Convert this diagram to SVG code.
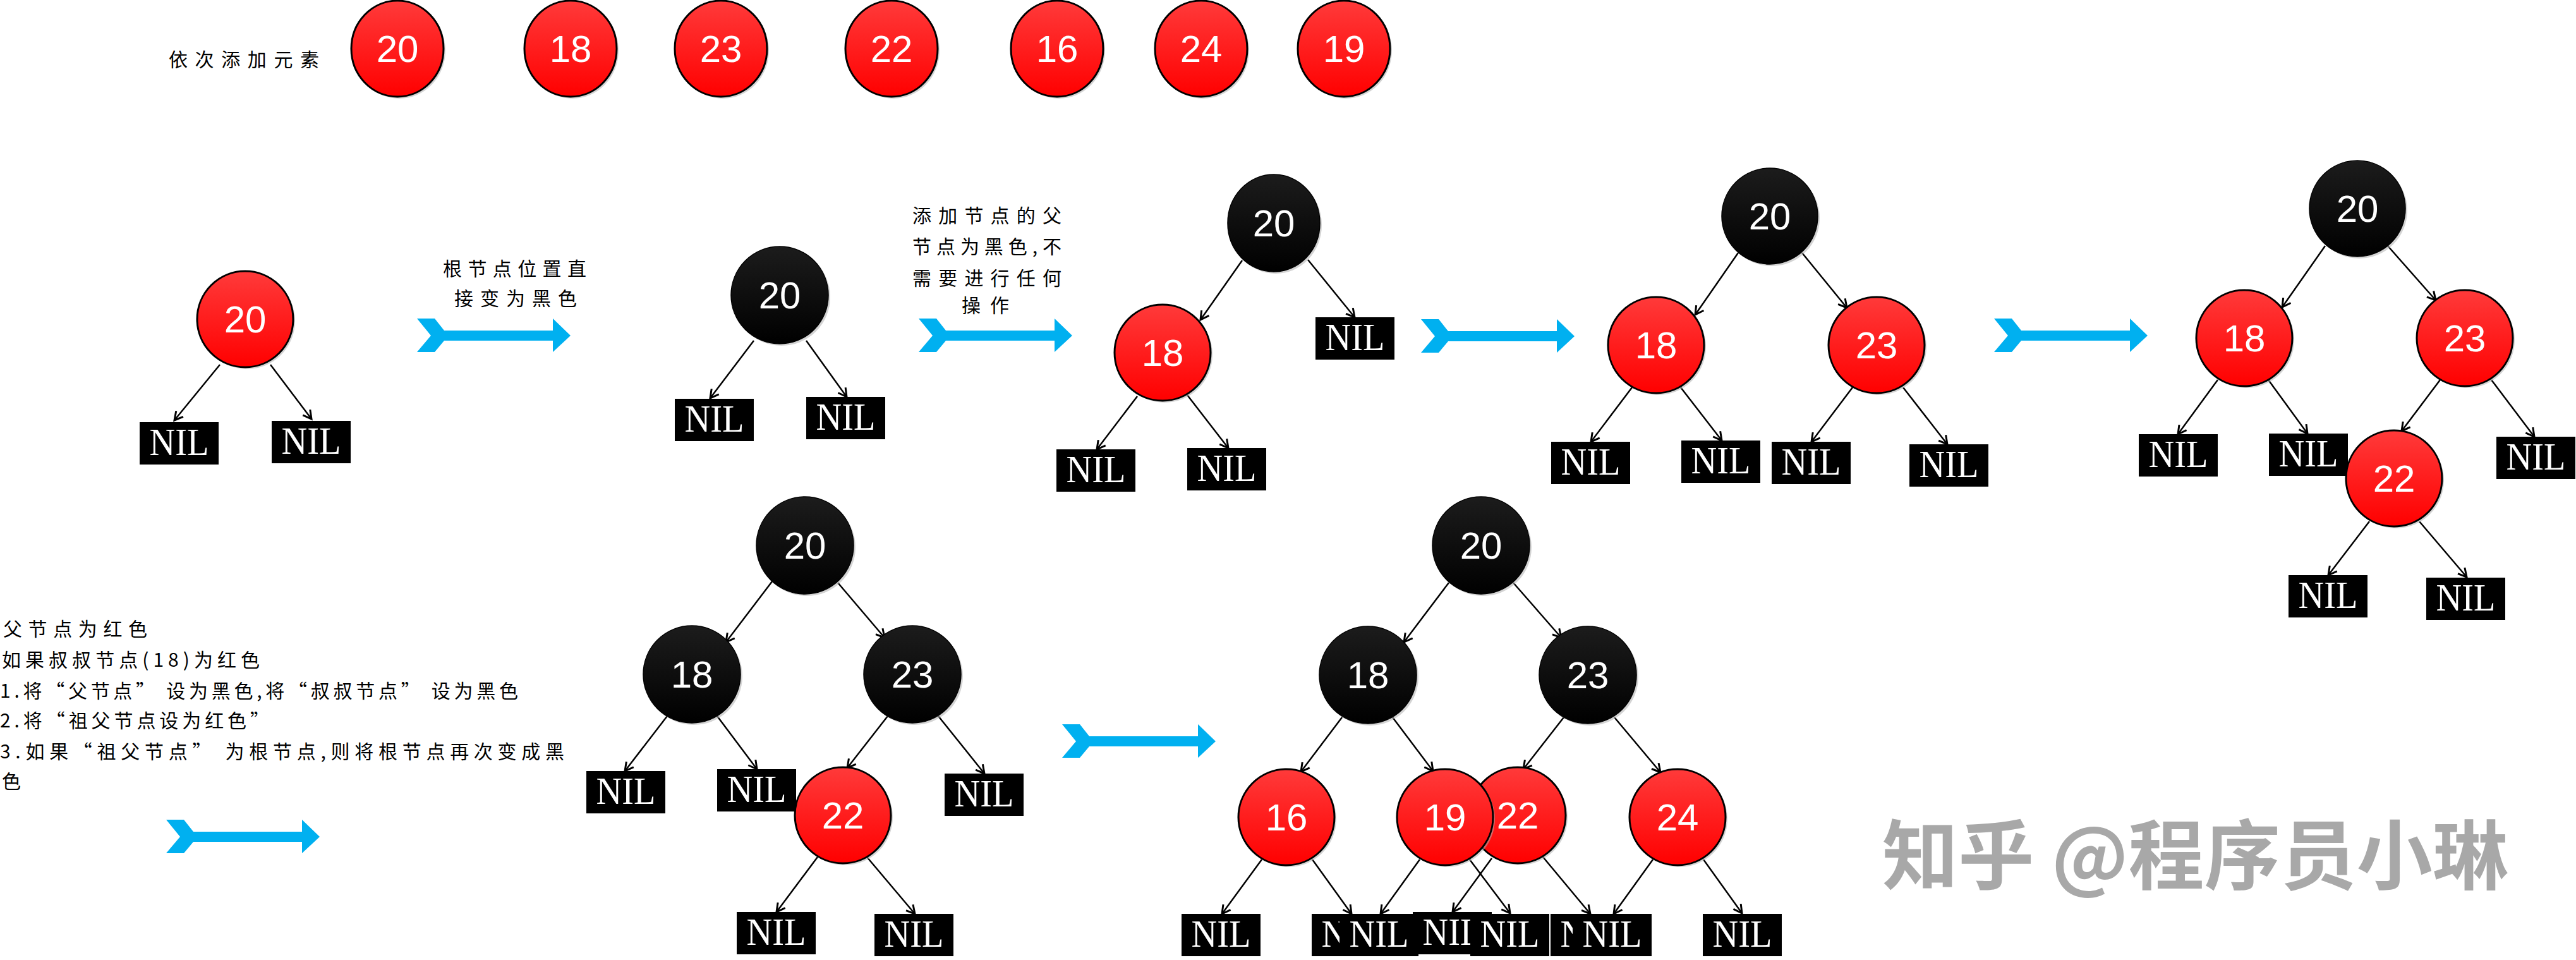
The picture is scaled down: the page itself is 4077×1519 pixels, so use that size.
<svg xmlns="http://www.w3.org/2000/svg" xmlns:xlink="http://www.w3.org/1999/xlink" width="4077" height="1519" viewBox="0 0 4077 1519">
<defs>
<linearGradient id="gr" x1="0" y1="0" x2="0" y2="1"><stop offset="0" stop-color="#ff3a3a"/><stop offset="1" stop-color="#ff0000"/></linearGradient>
<linearGradient id="gb" x1="0" y1="0" x2="0" y2="1"><stop offset="0" stop-color="#1c1c1c"/><stop offset="1" stop-color="#000"/></linearGradient>
<marker id="ah" markerUnits="userSpaceOnUse" markerWidth="24" markerHeight="24" viewBox="-14 -10 18 20" refX="0" refY="0" orient="auto"><path d="M-11,-6 L0,0 L-11,6" fill="none" stroke="#000" stroke-width="2.5"/></marker>
<path id="barrow" d="M0,0 L28,0 L43,19 L215,19 L215,0 L243,27 L215,53 L215,35 L43,35 L28,53 L0,53 L22,27 Z" fill="#00b0f0"/>
<style>
.red{fill:url(#gr);stroke:#000;stroke-width:3}
.blk{fill:url(#gb);stroke:#000;stroke-width:1.5}
.sh{fill:#b0b0b0;opacity:0.55}
.num{font-family:"Liberation Sans",Arial,sans-serif;font-size:60px;fill:#fff;text-anchor:middle}
.nil{fill:#000}
.nilt{font-family:"Liberation Serif","Times New Roman",serif;font-size:62px;fill:#fff;text-anchor:middle}
.edge line{stroke:#000;stroke-width:2.5;marker-end:url(#ah)}
.cn{font-family:"Noto Sans CJK SC","Noto Sans CJK JP",sans-serif;font-size:30px;fill:#000}
.wm{font-family:"Noto Sans CJK SC","Noto Sans CJK JP",sans-serif;font-size:120px;font-weight:bold;fill:#a8a8a8}
</style>
</defs>
<rect width="4077" height="1519" fill="#fff"/>

<!-- captions -->
<g id="captions">
<text class="cn" x="267" y="105" textLength="238" lengthAdjust="spacing">依次添加元素</text>
<text class="cn" x="701" y="436" textLength="227" lengthAdjust="spacing">根节点位置直</text>
<text class="cn" x="719" y="483" textLength="194" lengthAdjust="spacing">接变为黑色</text>
<text class="cn" x="1444" y="352" textLength="236" lengthAdjust="spacing">添加节点的父</text>
<text class="cn" x="1444" y="401" textLength="236" lengthAdjust="spacing">节点为黑色,不</text>
<text class="cn" x="1444" y="451" textLength="236" lengthAdjust="spacing">需要进行任何</text>
<text class="cn" x="1522" y="494" textLength="75" lengthAdjust="spacing">操作</text>
<text class="cn" x="5" y="1006" textLength="228" lengthAdjust="spacing">父节点为红色</text>
<text class="cn" x="3" y="1055" textLength="408" lengthAdjust="spacing">如果叔叔节点(18)为红色</text>
<text class="cn" x="0" y="1104" textLength="820" lengthAdjust="spacing">1.将“父节点” 设为黑色,将“叔叔节点” 设为黑色</text>
<text class="cn" x="0" y="1151" textLength="426" lengthAdjust="spacing">2.将“祖父节点设为红色”</text>
<text class="cn" x="0" y="1200" textLength="893" lengthAdjust="spacing">3.如果“祖父节点” 为根节点,则将根节点再次变成黑</text>
<text class="cn" x="3" y="1247">色</text>
<text class="wm" x="2979" y="1398" textLength="991" lengthAdjust="spacing">知乎 @程序员小琳</text>
</g>

<!-- blue arrows -->
<g id="arrows">
<use href="#barrow" xlink:href="#barrow" x="660" y="504"/>
<use href="#barrow" xlink:href="#barrow" x="1454" y="504"/>
<use href="#barrow" xlink:href="#barrow" x="2249" y="505"/>
<use href="#barrow" xlink:href="#barrow" x="3156" y="504"/>
<use href="#barrow" xlink:href="#barrow" x="1681" y="1146"/>
<use href="#barrow" xlink:href="#barrow" x="263" y="1297"/>
</g>

<!-- connectors -->
<g id="connectors" class="edge">
<line x1="348" y1="577" x2="276" y2="665"/>
<line x1="428" y1="577" x2="493" y2="663"/>
<line x1="1193" y1="539" x2="1124" y2="630"/>
<line x1="1276" y1="539" x2="1340" y2="628"/>
<line x1="1966" y1="412" x2="1900" y2="506"/>
<line x1="2070" y1="411" x2="2144" y2="502"/>
<line x1="1800" y1="627" x2="1736" y2="711"/>
<line x1="1879" y1="625" x2="1944" y2="709"/>
<line x1="2751" y1="400" x2="2683" y2="498"/>
<line x1="2852" y1="400" x2="2923" y2="487"/>
<line x1="2583" y1="613" x2="2518" y2="699"/>
<line x1="2660" y1="613" x2="2725" y2="697"/>
<line x1="2932" y1="613" x2="2867" y2="699"/>
<line x1="3012" y1="613" x2="3082" y2="703"/>
<line x1="3680" y1="389" x2="3612" y2="486"/>
<line x1="3779" y1="389" x2="3855" y2="475"/>
<line x1="3510" y1="601" x2="3447" y2="687"/>
<line x1="3590" y1="601" x2="3652" y2="686"/>
<line x1="3862" y1="601" x2="3801" y2="682"/>
<line x1="3943" y1="601" x2="4011" y2="691"/>
<line x1="3750" y1="825" x2="3685" y2="910"/>
<line x1="3829" y1="825" x2="3904" y2="913"/>
<line x1="1222" y1="920" x2="1149" y2="1016"/>
<line x1="1326" y1="922" x2="1400" y2="1009"/>
<line x1="1056" y1="1133" x2="989" y2="1220"/>
<line x1="1135" y1="1133" x2="1198" y2="1217"/>
<line x1="1405" y1="1133" x2="1341" y2="1215"/>
<line x1="1485" y1="1133" x2="1558" y2="1224"/>
<line x1="1294" y1="1356" x2="1229" y2="1443"/>
<line x1="1372" y1="1356" x2="1448" y2="1446"/>
<line x1="2293" y1="922" x2="2222" y2="1016"/>
<line x1="2395" y1="922" x2="2471" y2="1009"/>
<line x1="2124" y1="1135" x2="2059" y2="1221"/>
<line x1="2204" y1="1135" x2="2268" y2="1220"/>
<line x1="2475" y1="1135" x2="2411" y2="1217"/>
<line x1="2555" y1="1135" x2="2628" y2="1222"/>
<line x1="1997" y1="1360" x2="1934" y2="1446"/>
<line x1="2077" y1="1360" x2="2139" y2="1446"/>
<line x1="2247" y1="1360" x2="2185" y2="1446"/>
<line x1="2326" y1="1360" x2="2390" y2="1445"/>
<line x1="2361" y1="1358" x2="2299" y2="1443"/>
<line x1="2442" y1="1356" x2="2517" y2="1446"/>
<line x1="2616" y1="1360" x2="2554" y2="1446"/>
<line x1="2696" y1="1360" x2="2757" y2="1445"/>
</g>

<!-- top row -->
<g id="top-20"><ellipse class="sh" cx="632" cy="80" rx="73" ry="76"/><ellipse class="red" cx="629" cy="77" rx="73" ry="76"/><text class="num" x="629" y="98">20</text></g>
<g id="top-18"><ellipse class="sh" cx="906" cy="80" rx="73" ry="76"/><ellipse class="red" cx="903" cy="77" rx="73" ry="76"/><text class="num" x="903" y="98">18</text></g>
<g id="top-23"><ellipse class="sh" cx="1144" cy="80" rx="73" ry="76"/><ellipse class="red" cx="1141" cy="77" rx="73" ry="76"/><text class="num" x="1141" y="98">23</text></g>
<g id="top-22"><ellipse class="sh" cx="1414" cy="80" rx="73" ry="76"/><ellipse class="red" cx="1411" cy="77" rx="73" ry="76"/><text class="num" x="1411" y="98">22</text></g>
<g id="top-16"><ellipse class="sh" cx="1676" cy="80" rx="73" ry="76"/><ellipse class="red" cx="1673" cy="77" rx="73" ry="76"/><text class="num" x="1673" y="98">16</text></g>
<g id="top-24"><ellipse class="sh" cx="1904" cy="80" rx="73" ry="76"/><ellipse class="red" cx="1901" cy="77" rx="73" ry="76"/><text class="num" x="1901" y="98">24</text></g>
<g id="top-19"><ellipse class="sh" cx="2130" cy="80" rx="73" ry="76"/><ellipse class="red" cx="2127" cy="77" rx="73" ry="76"/><text class="num" x="2127" y="98">19</text></g>

<!-- panel 1 -->
<g id="p1-20"><circle class="sh" cx="391" cy="508" r="76"/><circle class="red" cx="388" cy="505" r="76"/><text class="num" x="388" y="526">20</text></g>
<g id="p1-nil-a"><rect class="nil" x="221" y="668" width="125" height="67"/><text class="nilt" x="283.5" y="720" textLength="94" lengthAdjust="spacingAndGlyphs">NIL</text></g>
<g id="p1-nil-b"><rect class="nil" x="430" y="666" width="125" height="67"/><text class="nilt" x="492.5" y="718" textLength="94" lengthAdjust="spacingAndGlyphs">NIL</text></g>

<!-- panel 2 -->
<g id="p2-20"><circle class="sh" cx="1237" cy="470" r="77"/><circle class="blk" cx="1234" cy="467" r="77"/><text class="num" x="1234" y="488">20</text></g>
<g id="p2-nil-a"><rect class="nil" x="1068" y="631" width="125" height="67"/><text class="nilt" x="1130.5" y="683" textLength="94" lengthAdjust="spacingAndGlyphs">NIL</text></g>
<g id="p2-nil-b"><rect class="nil" x="1276" y="628" width="125" height="67"/><text class="nilt" x="1338.5" y="680" textLength="94" lengthAdjust="spacingAndGlyphs">NIL</text></g>

<!-- panel 3 -->
<g id="p3-20"><ellipse class="sh" cx="2019" cy="356" rx="73" ry="77"/><ellipse class="blk" cx="2016" cy="353" rx="73" ry="77"/><text class="num" x="2016" y="374">20</text></g>
<g id="p3-18"><circle class="sh" cx="1843" cy="561" r="76"/><circle class="red" cx="1840" cy="558" r="76"/><text class="num" x="1840" y="579">18</text></g>
<g id="p3-nil-a"><rect class="nil" x="2082" y="502" width="125" height="67"/><text class="nilt" x="2144.5" y="554" textLength="94" lengthAdjust="spacingAndGlyphs">NIL</text></g>
<g id="p3-nil-b"><rect class="nil" x="1672" y="711" width="125" height="67"/><text class="nilt" x="1734.5" y="763" textLength="94" lengthAdjust="spacingAndGlyphs">NIL</text></g>
<g id="p3-nil-c"><rect class="nil" x="1879" y="709" width="125" height="67"/><text class="nilt" x="1941.5" y="761" textLength="94" lengthAdjust="spacingAndGlyphs">NIL</text></g>

<!-- panel 4 -->
<g id="p4-20"><circle class="sh" cx="2804" cy="345" r="76"/><circle class="blk" cx="2801" cy="342" r="76"/><text class="num" x="2801" y="363">20</text></g>
<g id="p4-18"><circle class="sh" cx="2624" cy="549" r="76"/><circle class="red" cx="2621" cy="546" r="76"/><text class="num" x="2621" y="567">18</text></g>
<g id="p4-23"><circle class="sh" cx="2973" cy="549" r="76"/><circle class="red" cx="2970" cy="546" r="76"/><text class="num" x="2970" y="567">23</text></g>
<g id="p4-nil-a"><rect class="nil" x="2455" y="699" width="125" height="67"/><text class="nilt" x="2517.5" y="751" textLength="94" lengthAdjust="spacingAndGlyphs">NIL</text></g>
<g id="p4-nil-b"><rect class="nil" x="2661" y="697" width="125" height="67"/><text class="nilt" x="2723.5" y="749" textLength="94" lengthAdjust="spacingAndGlyphs">NIL</text></g>
<g id="p4-nil-c"><rect class="nil" x="2804" y="699" width="125" height="67"/><text class="nilt" x="2866.5" y="751" textLength="94" lengthAdjust="spacingAndGlyphs">NIL</text></g>
<g id="p4-nil-d"><rect class="nil" x="3022" y="703" width="125" height="67"/><text class="nilt" x="3084.5" y="755" textLength="94" lengthAdjust="spacingAndGlyphs">NIL</text></g>

<!-- panel 5 -->
<g id="p5-20"><circle class="sh" cx="3734" cy="333" r="76"/><circle class="blk" cx="3731" cy="330" r="76"/><text class="num" x="3731" y="351">20</text></g>
<g id="p5-18"><circle class="sh" cx="3555" cy="538" r="76"/><circle class="red" cx="3552" cy="535" r="76"/><text class="num" x="3552" y="556">18</text></g>
<g id="p5-23"><circle class="sh" cx="3904" cy="538" r="76"/><circle class="red" cx="3901" cy="535" r="76"/><text class="num" x="3901" y="556">23</text></g>
<g id="p5-nil-a"><rect class="nil" x="3385" y="687" width="125" height="67"/><text class="nilt" x="3447.5" y="739" textLength="94" lengthAdjust="spacingAndGlyphs">NIL</text></g>
<g id="p5-nil-b"><rect class="nil" x="3591" y="686" width="125" height="67"/><text class="nilt" x="3653.5" y="738" textLength="94" lengthAdjust="spacingAndGlyphs">NIL</text></g>
<g id="p5-nil-c"><rect class="nil" x="3951" y="691" width="125" height="67"/><text class="nilt" x="4013.5" y="743" textLength="94" lengthAdjust="spacingAndGlyphs">NIL</text></g>
<g id="p5-22"><circle class="sh" cx="3792" cy="760" r="76"/><circle class="red" cx="3789" cy="757" r="76"/><text class="num" x="3789" y="778">22</text></g>
<g id="p5-nil-d"><rect class="nil" x="3622" y="910" width="125" height="67"/><text class="nilt" x="3684.5" y="962" textLength="94" lengthAdjust="spacingAndGlyphs">NIL</text></g>
<g id="p5-nil-e"><rect class="nil" x="3840" y="914" width="125" height="67"/><text class="nilt" x="3902.5" y="966" textLength="94" lengthAdjust="spacingAndGlyphs">NIL</text></g>

<!-- panel 6 -->
<g id="p6-20"><circle class="sh" cx="1277" cy="866" r="77"/><circle class="blk" cx="1274" cy="863" r="77"/><text class="num" x="1274" y="884">20</text></g>
<g id="p6-18"><circle class="sh" cx="1098" cy="1070" r="77"/><circle class="blk" cx="1095" cy="1067" r="77"/><text class="num" x="1095" y="1088">18</text></g>
<g id="p6-23"><circle class="sh" cx="1447" cy="1070" r="77"/><circle class="blk" cx="1444" cy="1067" r="77"/><text class="num" x="1444" y="1088">23</text></g>
<g id="p6-nil-a"><rect class="nil" x="928" y="1220" width="125" height="67"/><text class="nilt" x="990.5" y="1272" textLength="94" lengthAdjust="spacingAndGlyphs">NIL</text></g>
<g id="p6-nil-b"><rect class="nil" x="1135" y="1217" width="125" height="67"/><text class="nilt" x="1197.5" y="1269" textLength="94" lengthAdjust="spacingAndGlyphs">NIL</text></g>
<g id="p6-nil-c"><rect class="nil" x="1495" y="1224" width="125" height="67"/><text class="nilt" x="1557.5" y="1276" textLength="94" lengthAdjust="spacingAndGlyphs">NIL</text></g>
<g id="p6-22"><circle class="sh" cx="1337" cy="1293" r="76"/><circle class="red" cx="1334" cy="1290" r="76"/><text class="num" x="1334" y="1311">22</text></g>
<g id="p6-nil-d"><rect class="nil" x="1166" y="1443" width="125" height="67"/><text class="nilt" x="1228.5" y="1495" textLength="94" lengthAdjust="spacingAndGlyphs">NIL</text></g>
<g id="p6-nil-e"><rect class="nil" x="1384" y="1446" width="125" height="67"/><text class="nilt" x="1446.5" y="1498" textLength="94" lengthAdjust="spacingAndGlyphs">NIL</text></g>

<!-- panel 7 -->
<g id="p7-20"><circle class="sh" cx="2347" cy="866" r="77"/><circle class="blk" cx="2344" cy="863" r="77"/><text class="num" x="2344" y="884">20</text></g>
<g id="p7-18"><circle class="sh" cx="2168" cy="1071" r="77"/><circle class="blk" cx="2165" cy="1068" r="77"/><text class="num" x="2165" y="1089">18</text></g>
<g id="p7-23"><circle class="sh" cx="2516" cy="1071" r="77"/><circle class="blk" cx="2513" cy="1068" r="77"/><text class="num" x="2513" y="1089">23</text></g>
<g id="p7-16"><circle class="sh" cx="2039" cy="1296" r="76"/><circle class="red" cx="2036" cy="1293" r="76"/><text class="num" x="2036" y="1314">16</text></g>
<g id="p7-22"><circle class="sh" cx="2405" cy="1293" r="76"/><circle class="red" cx="2402" cy="1290" r="76"/><text class="num" x="2402" y="1311">22</text></g>
<g id="p7-19"><circle class="sh" cx="2290" cy="1296" r="76"/><circle class="red" cx="2287" cy="1293" r="76"/><text class="num" x="2287" y="1314">19</text></g>
<g id="p7-24"><circle class="sh" cx="2658" cy="1296" r="76"/><circle class="red" cx="2655" cy="1293" r="76"/><text class="num" x="2655" y="1314">24</text></g>
<g id="p7-nil-a"><rect class="nil" x="1870" y="1446" width="125" height="67"/><text class="nilt" x="1932.5" y="1498" textLength="94" lengthAdjust="spacingAndGlyphs">NIL</text></g>
<g id="p7-nil-b"><rect class="nil" x="2076" y="1446" width="125" height="67"/><text class="nilt" x="2138.5" y="1498" textLength="94" lengthAdjust="spacingAndGlyphs">NIL</text></g>
<g id="p7-nil-c"><rect class="nil" x="2120" y="1446" width="125" height="67"/><text class="nilt" x="2182.5" y="1498" textLength="94" lengthAdjust="spacingAndGlyphs">NIL</text></g>
<g id="p7-nil-d"><rect class="nil" x="2236" y="1443" width="125" height="67"/><text class="nilt" x="2298.5" y="1495" textLength="94" lengthAdjust="spacingAndGlyphs">NIL</text></g>
<g id="p7-nil-e"><rect class="nil" x="2327" y="1446" width="125" height="67"/><text class="nilt" x="2389.5" y="1498" textLength="94" lengthAdjust="spacingAndGlyphs">NIL</text></g>
<g id="p7-nil-f"><rect class="nil" x="2454" y="1446" width="125" height="67"/><text class="nilt" x="2516.5" y="1498" textLength="94" lengthAdjust="spacingAndGlyphs">NIL</text></g>
<g id="p7-nil-g"><rect class="nil" x="2489" y="1446" width="125" height="67"/><text class="nilt" x="2551.5" y="1498" textLength="94" lengthAdjust="spacingAndGlyphs">NIL</text></g>
<g id="p7-nil-h"><rect class="nil" x="2695" y="1446" width="125" height="67"/><text class="nilt" x="2757.5" y="1498" textLength="94" lengthAdjust="spacingAndGlyphs">NIL</text></g>
</svg>
